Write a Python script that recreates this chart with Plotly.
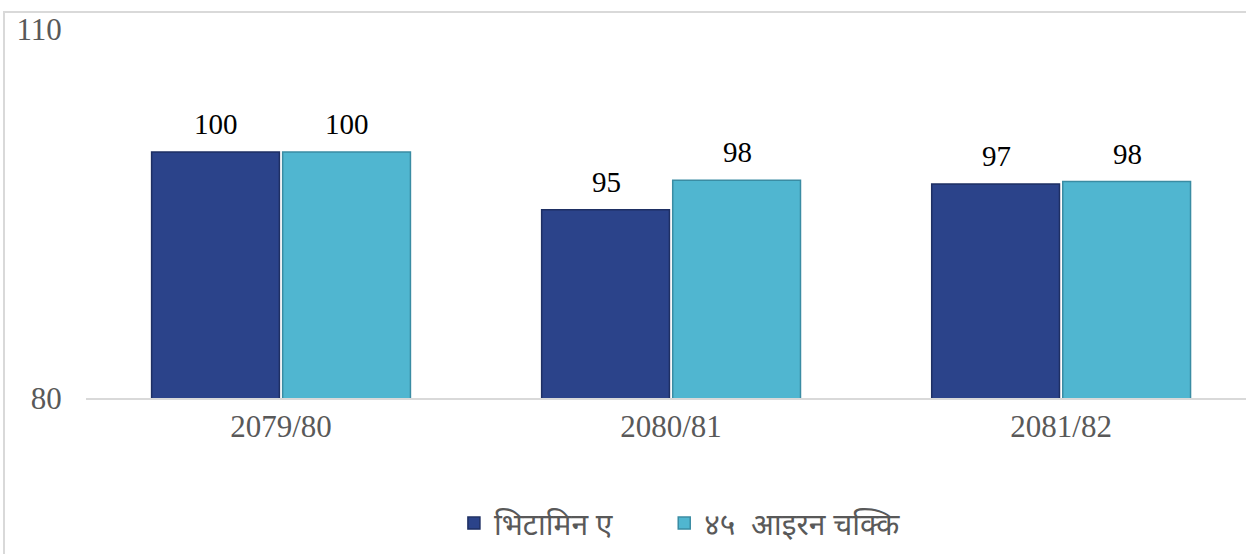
import plotly.graph_objects as go

# data
years = ["2079/80", "2080/81", "2081/82"]
vitamin_a = [100.0, 95.3, 97.4]
iron_tablets = [100.0, 97.7, 97.6]
vitamin_a_labels = ["100", "95", "97"]
iron_labels = ["100", "98", "98"]
series_names = ["भिटामिन ए", "४५  आइरन चक्कि"]

DARK_BLUE = "#2B438A"
CYAN = "#50B6D0"
AXIS_GREY = "#595959"
LINE_GREY = "#D9D9D9"
SERIF = "Liberation Serif, serif"
DEVANAGARI = "Noto Sans Devanagari, Lohit Devanagari, Mangal, Noto Sans, sans-serif"

fig = go.Figure()
fig.add_trace(
    go.Bar(
        x=years,
        y=vitamin_a,
        # trailing no-break spaces widen the gap between the two legend entries
        name=series_names[0] + "\u00a0" * 6,
        marker=dict(color=DARK_BLUE, line=dict(color="#1E2F63", width=1.5)),
        base=0,
    )
)
fig.add_trace(
    go.Bar(
        x=years,
        y=iron_tablets,
        name=series_names[1],
        marker=dict(color=CYAN, line=dict(color="#3A8CA3", width=1.5)),
        base=0,
    )
)

# data labels, sitting a little above each bar
annotations = []
for i in range(len(years)):
    for vals, labels, shift in [(vitamin_a, vitamin_a_labels, -65), (iron_tablets, iron_labels, 66)]:
        annotations.append(
            dict(
                x=years[i],
                y=vals[i],
                text=labels[i],
                showarrow=False,
                xshift=shift,
                yshift=28,
                font=dict(family=SERIF, size=29, color="black"),
            )
        )

# chart frame (runs off the right / bottom edge like the reference)
shapes = [
    dict(
        type="rect",
        xref="paper",
        yref="paper",
        x0=-0.0707,
        x1=1.02,
        y0=-0.46,
        y1=1.046,
        line=dict(color=LINE_GREY, width=2),
        fillcolor="rgba(0,0,0,0)",
        layer="below",
    )
]

fig.update_layout(
    width=1246,
    height=554,
    margin=dict(l=86, r=0, t=29, b=156),
    font=dict(family=SERIF, color=AXIS_GREY),
    paper_bgcolor="white",
    plot_bgcolor="white",
    barmode="group",
    bargap=0.328,
    bargroupgap=0.025,
    annotations=annotations,
    shapes=shapes,
    showlegend=True,
    legend=dict(
        orientation="h",
        x=0.512,
        xanchor="center",
        y=-0.339,
        yanchor="middle",
        font=dict(family=DEVANAGARI, size=30, color=AXIS_GREY),
        itemwidth=30,
        traceorder="normal",
    ),
    xaxis=dict(
        range=[-0.5, 2.474],
        showline=True,
        linecolor=LINE_GREY,
        linewidth=2,
        ticks="",
        showgrid=False,
        tickfont=dict(family=SERIF, size=31, color=AXIS_GREY),
    ),
    yaxis=dict(
        range=[80, 110],
        tickvals=[80, 110],
        showgrid=False,
        zeroline=False,
        showline=False,
        ticks="outside",
        ticklen=17,
        tickcolor="rgba(0,0,0,0)",
        tickfont=dict(family=SERIF, size=31, color=AXIS_GREY),
    ),
)

# drop the browser's default body margin so the figure sits at the page corner
fig.write_html(
    "out.html",
    config={"displayModeBar": False},
    post_script="document.body.style.margin='0px';",
)
